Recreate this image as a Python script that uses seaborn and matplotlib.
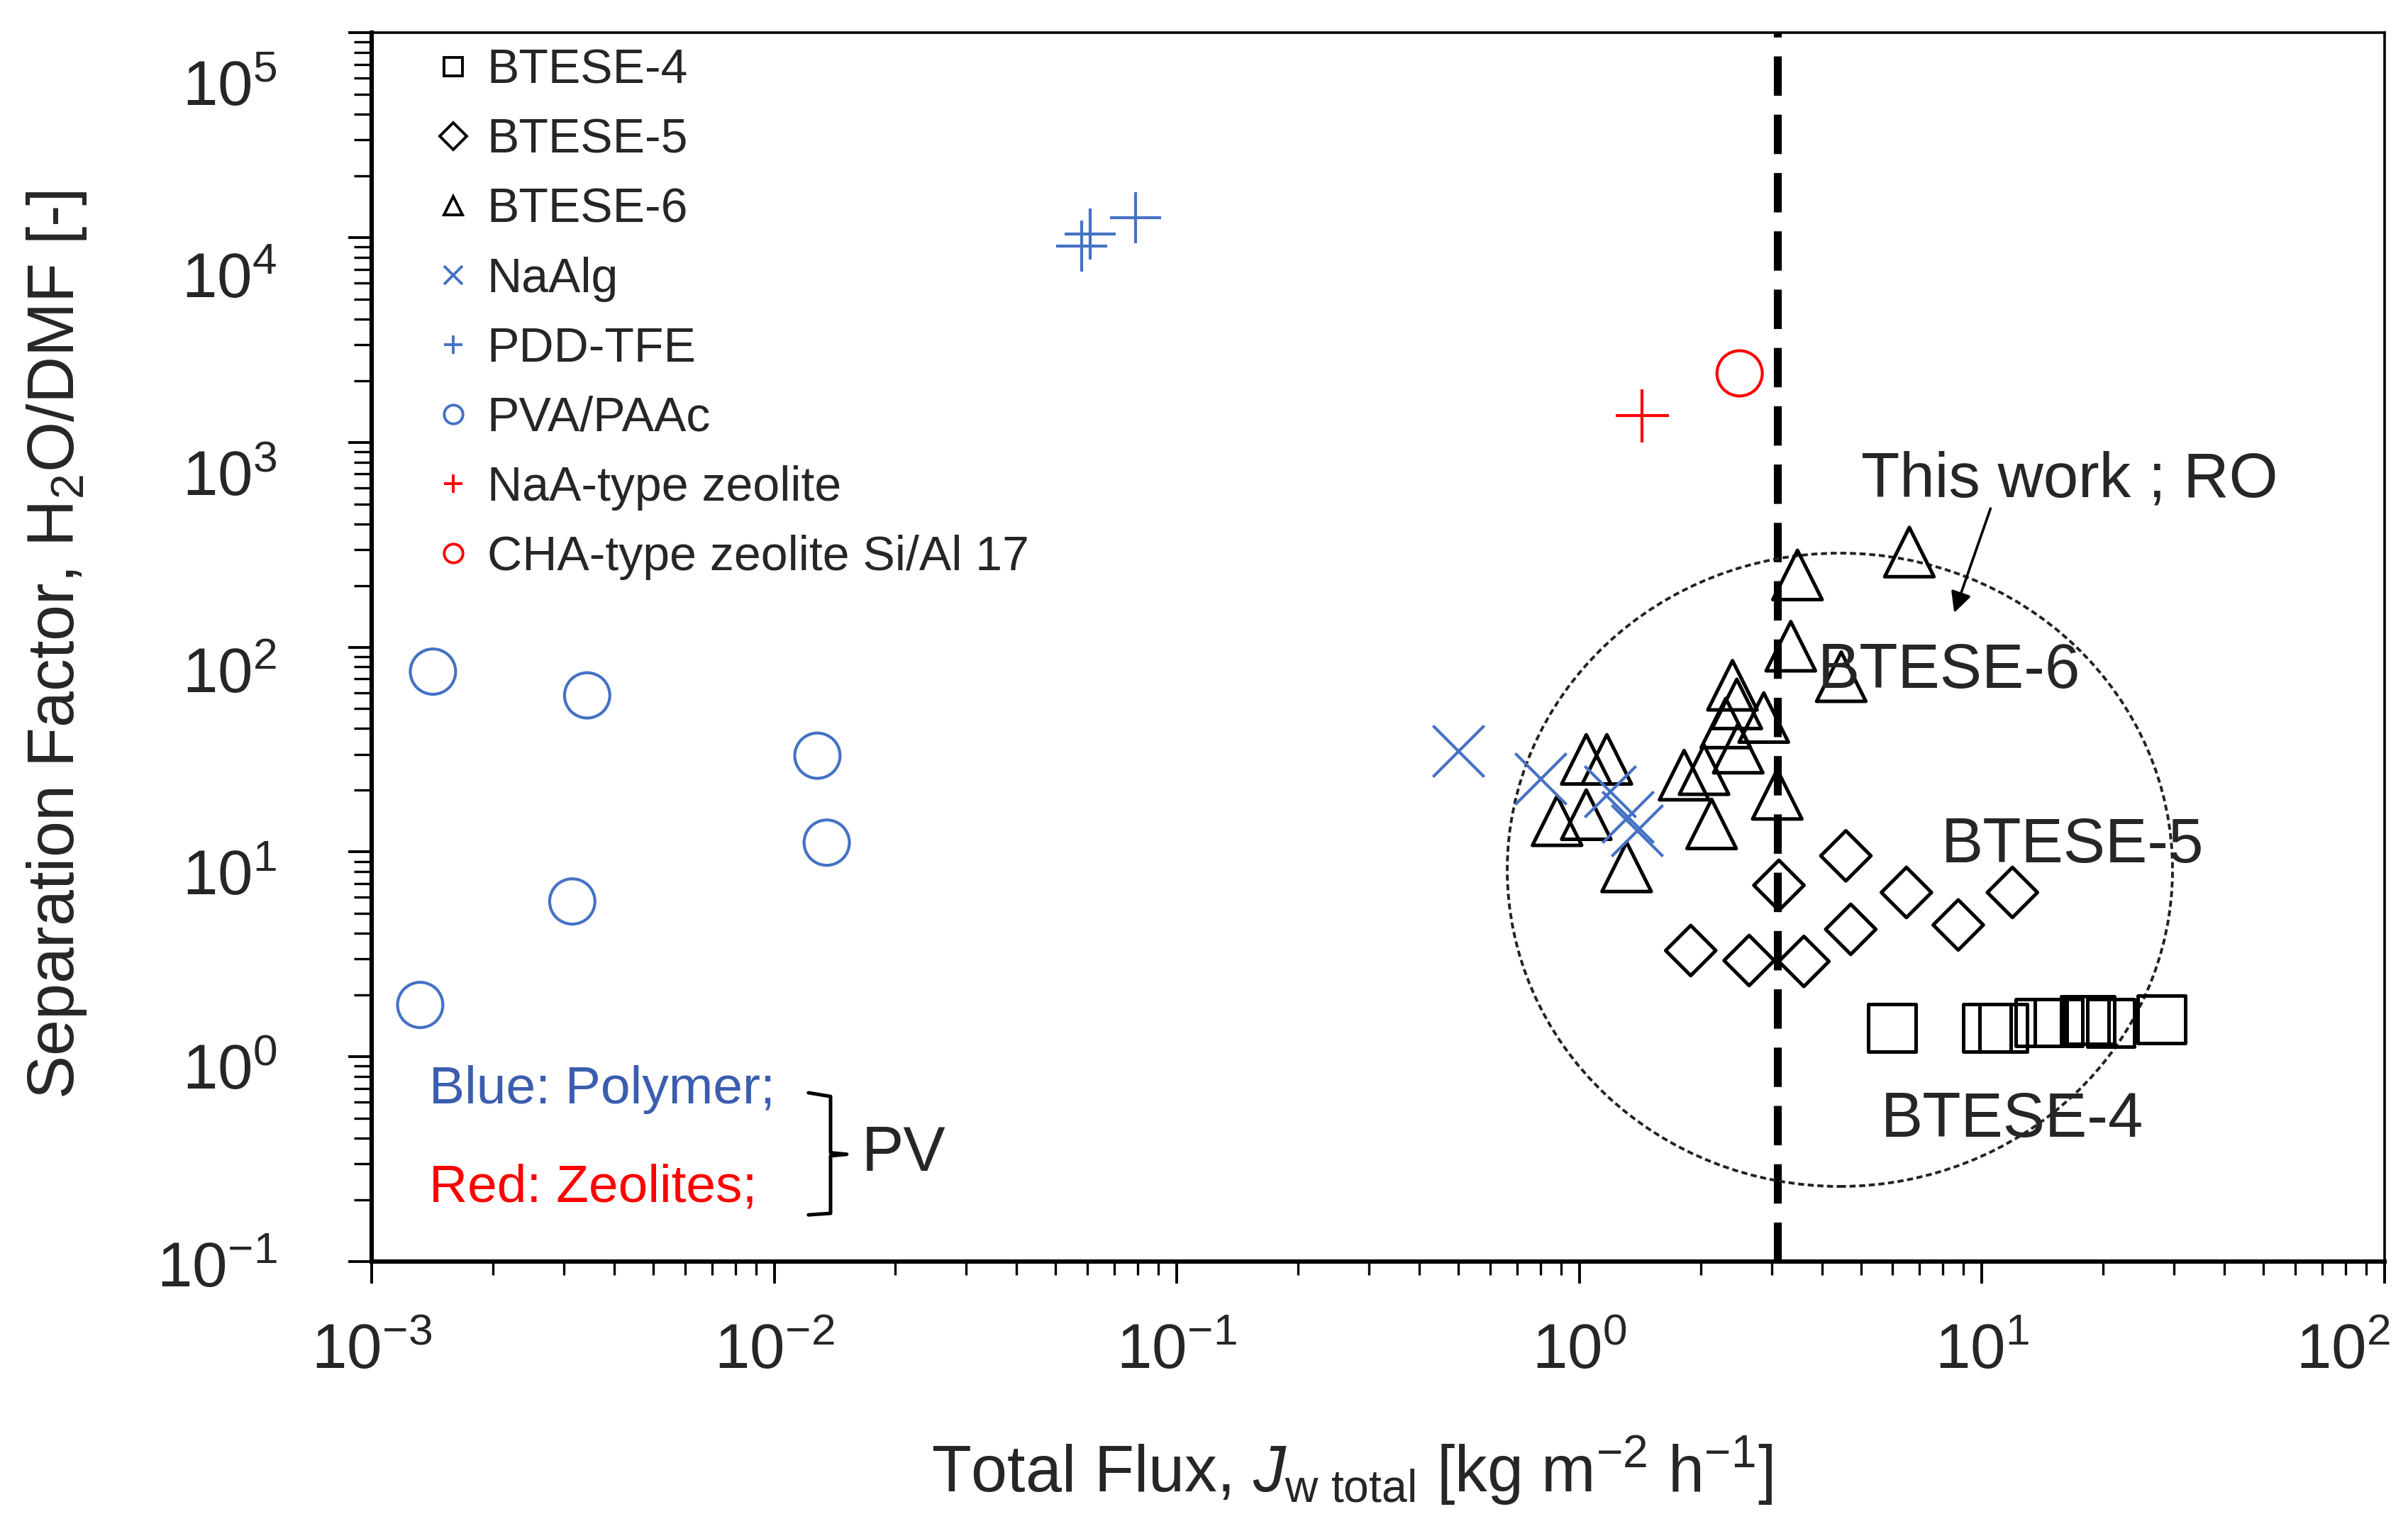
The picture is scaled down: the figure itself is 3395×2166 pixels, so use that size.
import numpy as np
import pandas as pd
import matplotlib
matplotlib.use("Agg")
import matplotlib.pyplot as plt
import matplotlib.transforms as mtransforms
import seaborn as sns
from matplotlib.lines import Line2D
from matplotlib.patches import Ellipse
from matplotlib.ticker import FixedLocator, FuncFormatter, NullFormatter, LogLocator

# ---------------- data ----------------
btese4_flux = [5.98, 10.3, 11.3, 13.9, 15.5, 18.0, 18.6, 20.9, 27.9]
btese4_sf = [1.38, 1.38, 1.38, 1.47, 1.47, 1.51, 1.51, 1.46, 1.52]

btese5_flux = [1.89, 2.64, 3.13, 3.61, 4.59, 4.72, 6.49, 8.73, 11.9]
btese5_sf = [3.3, 2.95, 6.87, 2.92, 9.57, 4.19, 6.34, 4.40, 6.34]

btese6_flux = [1.04, 1.17, 0.88, 1.04, 1.31, 1.82, 2.04, 2.13, 2.40,
               2.46, 2.31, 2.48, 2.87, 3.10, 3.35, 4.47, 3.48, 6.60]
btese6_sf = [28.3, 28.3, 14.2, 15.2, 8.45, 23.7, 25.2, 13.7, 65.1,
             52.8, 42.6, 32.1, 45.3, 19.1, 101, 71.7, 225, 291]

naalg_flux = [0.50, 0.80, 1.19, 1.32, 1.39]
naalg_sf = [31.1, 22.8, 19.8, 14.8, 12.7]

pdd_flux = [0.058, 0.061, 0.079]
pdd_sf = [9080, 10370, 12500]

pva_flux = [0.00142, 0.00343, 0.0128, 0.0135, 0.00315, 0.00132]
pva_sf = [75.9, 58.1, 29.5, 11.1, 5.73, 1.79]

naa_flux = [1.43]
naa_sf = [1346]

cha_flux = [2.50]
cha_sf = [2170]

series_names = ["BTESE-4", "BTESE-5", "BTESE-6", "NaAlg", "PDD-TFE",
                "PVA/PAAc", "NaA-type zeolite", "CHA-type zeolite Si/Al 17"]
x_ticks = [1e-3, 1e-2, 1e-1, 1e0, 1e1, 1e2]
y_ticks = [1e-1, 1e0, 1e1, 1e2, 1e3, 1e4, 1e5]
ro_boundary_flux = 3.1

BLUE = "#4472C4"
RED = "#FF0000"
BLACK = "#000000"

# ---------------- style ----------------
sns.set_style("ticks")
plt.rcParams["font.family"] = ["Liberation Sans", "DejaVu Sans"]
plt.rcParams["mathtext.fontset"] = "custom"
plt.rcParams["mathtext.rm"] = "Liberation Sans"
plt.rcParams["mathtext.it"] = "Liberation Sans:italic"
plt.rcParams["mathtext.bf"] = "Liberation Sans:bold"

DPI = 200
fig = plt.figure(figsize=(3395 / DPI, 2166 / DPI), dpi=DPI)
ax = fig.add_axes([524 / 3395, 1 - 1779 / 2166, (3362 - 524) / 3395, (1779 - 46) / 2166])

def frame(x, y, name):
    return pd.DataFrame({"flux": x, "sf": y, "series": name})

specs = [
    (frame(btese4_flux, btese4_sf, series_names[0]), "s", 24, BLACK, True, 1.8),
    (frame(btese5_flux, btese5_sf, series_names[1]), "D", 18, BLACK, True, 1.8),
    (frame(btese6_flux, btese6_sf, series_names[2]), "^", 25, BLACK, True, 1.8),
    (frame(naalg_flux, naalg_sf, series_names[3]), "x", 26, BLUE, False, 1.5),
    (frame(pdd_flux, pdd_sf, series_names[4]), "+", 26, BLUE, False, 1.5),
    (frame(pva_flux, pva_sf, series_names[5]), "o", 23, BLUE, True, 1.5),
    (frame(naa_flux, naa_sf, series_names[6]), "+", 27, RED, False, 1.5),
    (frame(cha_flux, cha_sf, series_names[7]), "o", 23, RED, True, 1.5),
]

for df, mk, ms, col, fillable, lw in specs:
    kw = dict(data=df, x="flux", y="sf", ax=ax, marker=mk, s=ms ** 2,
              color=col, linewidth=lw, zorder=3, legend=False)
    if fillable:
        kw.update(facecolors="none", edgecolor=col)
    sns.scatterplot(**kw)

ax.set_xscale("log")
ax.set_yscale("log")
ax.set_xlim(x_ticks[0], x_ticks[-1])
ax.set_ylim(y_ticks[0], y_ticks[-1])

# RO / PV boundary
ax.axvline(ro_boundary_flux, color="black", lw=4, dashes=(5, 2.4), zorder=2)

# "This work" ellipse (in axes fraction)
ell = Ellipse((0.7294, 0.3188), 0.3305, 0.5153, transform=ax.transAxes,
              fill=False, edgecolor="#222222", lw=1.4, linestyle=(0, (2.2, 1.3)), zorder=2)
ax.add_patch(ell)

# ticks
fmt = FuncFormatter(lambda v, p: r"$10^{%d}$" % int(round(np.log10(v))))
ax.xaxis.set_major_locator(FixedLocator(x_ticks))
ax.yaxis.set_major_locator(FixedLocator(y_ticks))
ax.xaxis.set_major_formatter(fmt)
ax.yaxis.set_major_formatter(fmt)
ax.xaxis.set_minor_locator(LogLocator(base=10, subs=np.arange(2, 10), numticks=20))
ax.yaxis.set_minor_locator(LogLocator(base=10, subs=np.arange(2, 10), numticks=20))
ax.xaxis.set_minor_formatter(NullFormatter())
ax.yaxis.set_minor_formatter(NullFormatter())

ax.tick_params(axis="both", which="both", direction="out", top=False, right=False, color="black")
ax.tick_params(axis="x", which="major", length=11, width=1.4, pad=20, labelsize=32)
ax.tick_params(axis="x", which="minor", length=7, width=1.2)
ax.tick_params(axis="y", which="major", length=12, width=1.4, pad=36, labelsize=32)
ax.tick_params(axis="y", which="minor", length=9, width=1.2)

for s in ["left", "bottom"]:
    ax.spines[s].set_linewidth(2.2)
for s in ["top", "right"]:
    ax.spines[s].set_linewidth(1.3)
for s in ax.spines.values():
    s.set_color("black")

# y tick labels sit slightly lower than their ticks in the reference (more so at the top)
y_label_drop_px = [3, 13, 28, 32, 43, 53, 70]
for lab, drop in zip(ax.get_yticklabels(), y_label_drop_px):
    lab.set_transform(lab.get_transform() +
                      mtransforms.ScaledTranslation(0, -drop / DPI, fig.dpi_scale_trans))
# last x tick label right-aligned against the axes edge
xlabs = ax.get_xticklabels()
xlabs[-1].set_horizontalalignment("right")
xlabs[-1].set_transform(xlabs[-1].get_transform() +
                        mtransforms.ScaledTranslation(8 / DPI, 0, fig.dpi_scale_trans))

# axis labels
ax.set_xlabel(r"Total Flux, $J_{\mathrm{w\ total}}$ [kg m$^{-2}$ h$^{-1}$]", fontsize=33)
ax.set_ylabel(r"Separation Factor, H$_2$O/DMF [-]", fontsize=33)
ax.xaxis.set_label_coords(0.487, -0.170)
ax.xaxis.label.set_va("center")
ax.yaxis.set_label_coords(-0.1565, 0.502)
ax.yaxis.label.set_va("center")

# legend
handles = []
for df, mk, ms, col, fillable, lw in specs:
    h = Line2D([], [], ls="none", marker=mk, markersize=9.5, color=col,
               markerfacecolor="none" if fillable else col, markeredgecolor=col,
               markeredgewidth=1.4)
    handles.append(h)
ax.legend(handles, series_names, loc="upper left", bbox_to_anchor=(0.031, 0.9875),
          frameon=False, fontsize=24.5, borderpad=0, borderaxespad=0,
          handlelength=0.8, handletextpad=0.3, labelspacing=0.5)

# annotations
ax.text(5.0, 650, "This work ; RO", fontsize=32, ha="left", va="center", zorder=5)
ax.annotate("", xy=(8.53, 147), xytext=(10.5, 475),
            arrowprops=dict(arrowstyle="-|>", lw=1.3, color="black", mutation_scale=22,
                            shrinkA=0, shrinkB=0), zorder=5)
ax.text(3.9, 76, "BTESE-6", fontsize=32, ha="left", va="center", zorder=5)
ax.text(7.9, 10.7, "BTESE-5", fontsize=32, ha="left", va="center", zorder=5)
ax.text(5.6, 0.49, "BTESE-4", fontsize=32, ha="left", va="center", zorder=5)

ax.text(0.00139, 0.689, "Blue: Polymer;", fontsize=27, color="#3A5DAE", ha="left", va="center")
ax.text(0.00139, 0.229, "Red: Zeolites;", fontsize=27, color=RED, ha="left", va="center")

# bracket "}" and PV
bx = [0.01216, 0.01380, 0.01380, 0.01514, 0.01380, 0.01380, 0.01216]
by = [0.667, 0.640, 0.340, 0.334, 0.328, 0.172, 0.169]
ax.plot(bx, by, color="black", lw=1.8, solid_joinstyle="round", solid_capstyle="round")
ax.text(0.01648, 0.334, "PV", fontsize=32, ha="left", va="center")

fig.savefig("out.png", dpi=DPI, facecolor="white")
